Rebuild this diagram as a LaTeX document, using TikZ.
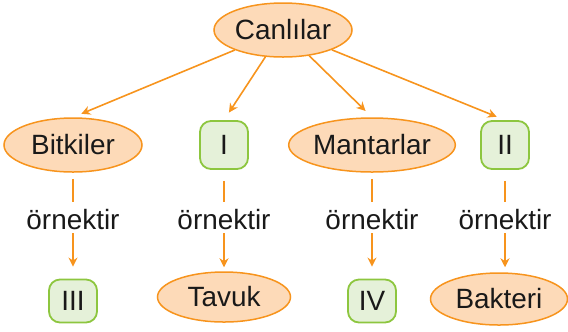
\documentclass[tikz,border=0pt]{standalone}
\usepackage{fontspec}
\setmainfont{Liberation Sans}
\usetikzlibrary{arrows,arrows.meta,shapes,positioning}
\definecolor{turuncu}{HTML}{F7941D}
\definecolor{seftali}{HTML}{FDDAB8}
\definecolor{yesil}{HTML}{8DC63F}
\definecolor{acikyesil}{HTML}{E5F1D9}

\begin{document}
\begin{tikzpicture}[x=1bp, y=-1bp, on grid,
    every node/.style={font=\fontsize{28}{31}\selectfont, text=black!90},
    oval/.style={ellipse, draw=turuncu, fill=seftali, line width=1.5bp, minimum width=138bp, minimum height=54bp, inner sep=0pt},
    kutu/.style={rectangle, rounded corners=11bp, draw=yesil, fill=acikyesil, line width=1.8bp, minimum width=48bp, minimum height=48bp, inner sep=0pt},
    yazi/.style={inner sep=0pt},
    ok/.style={turuncu, line width=1.6bp},
    >={Stealth[length=9bp, width=9bp]}]
      \useasboundingbox (0,0) rectangle (568,331);

      \node[oval] (c) at (283,30) {Canlılar};
      \node[oval] (b) [below left=115bp and 210bp of c] {Bitkiler};
      \node[kutu] (i) [right=151bp of b] {I};
      \node[oval] (m) [right=148bp of i] {Mantarlar};
      \node[kutu] (ii) [right=133bp of m] {II};

      \node[yazi] (o1) [below=75bp of b] {örnektir};
      \node[yazi] (o2) [below=75bp of i] {örnektir};
      \node[yazi] (o3) [below=75bp of m] {örnektir};
      \node[yazi] (o4) [below=75bp of ii] {örnektir};

      \node[kutu, minimum height=43bp] (iii) [below=81bp of o1] {III};
      \node[oval, minimum width=133bp, minimum height=50bp] (t) [below=81bp of o2, yshift=4bp] {Tavuk};
      \node[kutu, minimum height=43bp] (iv) [below=81bp of o3] {IV};
      \node[oval, minimum width=137bp, minimum height=52bp] (k) [below=81bp of o4, xshift=-6bp, yshift=2bp] {Bakteri};

      \draw[->] (c) edge [ok, shorten >=9bp] (b.north);
      \draw[->] (c) edge [ok, shorten >=9bp] (i.north);
      \draw[->] (c) edge [ok, shorten >=9bp] (m.north);
      \draw[->] (c) edge [ok, shorten >=9bp] (ii.north);

      \draw (b) edge [ok, shorten <=6bp, shorten >=8bp] (o1);
      \draw (i) edge [ok, shorten <=11bp, shorten >=8bp] (o2);
      \draw (m) edge [ok, shorten <=6bp, shorten >=8bp] (o3);
      \draw (ii) edge [ok, shorten <=11bp, shorten >=8bp] (o4);

      \draw[->] (o1) edge [ok, shorten <=3bp, shorten >=12bp] (iii);
      \draw[->] (o2) edge [ok, shorten <=3bp, shorten >=4bp] (t);
      \draw[->] (o3) edge [ok, shorten <=3bp, shorten >=12bp] (iv);
      \draw[->] (o4) edge [ok, shorten <=3bp, shorten >=5bp] (k.north -| ii);
    \end{tikzpicture}
\end{document}
